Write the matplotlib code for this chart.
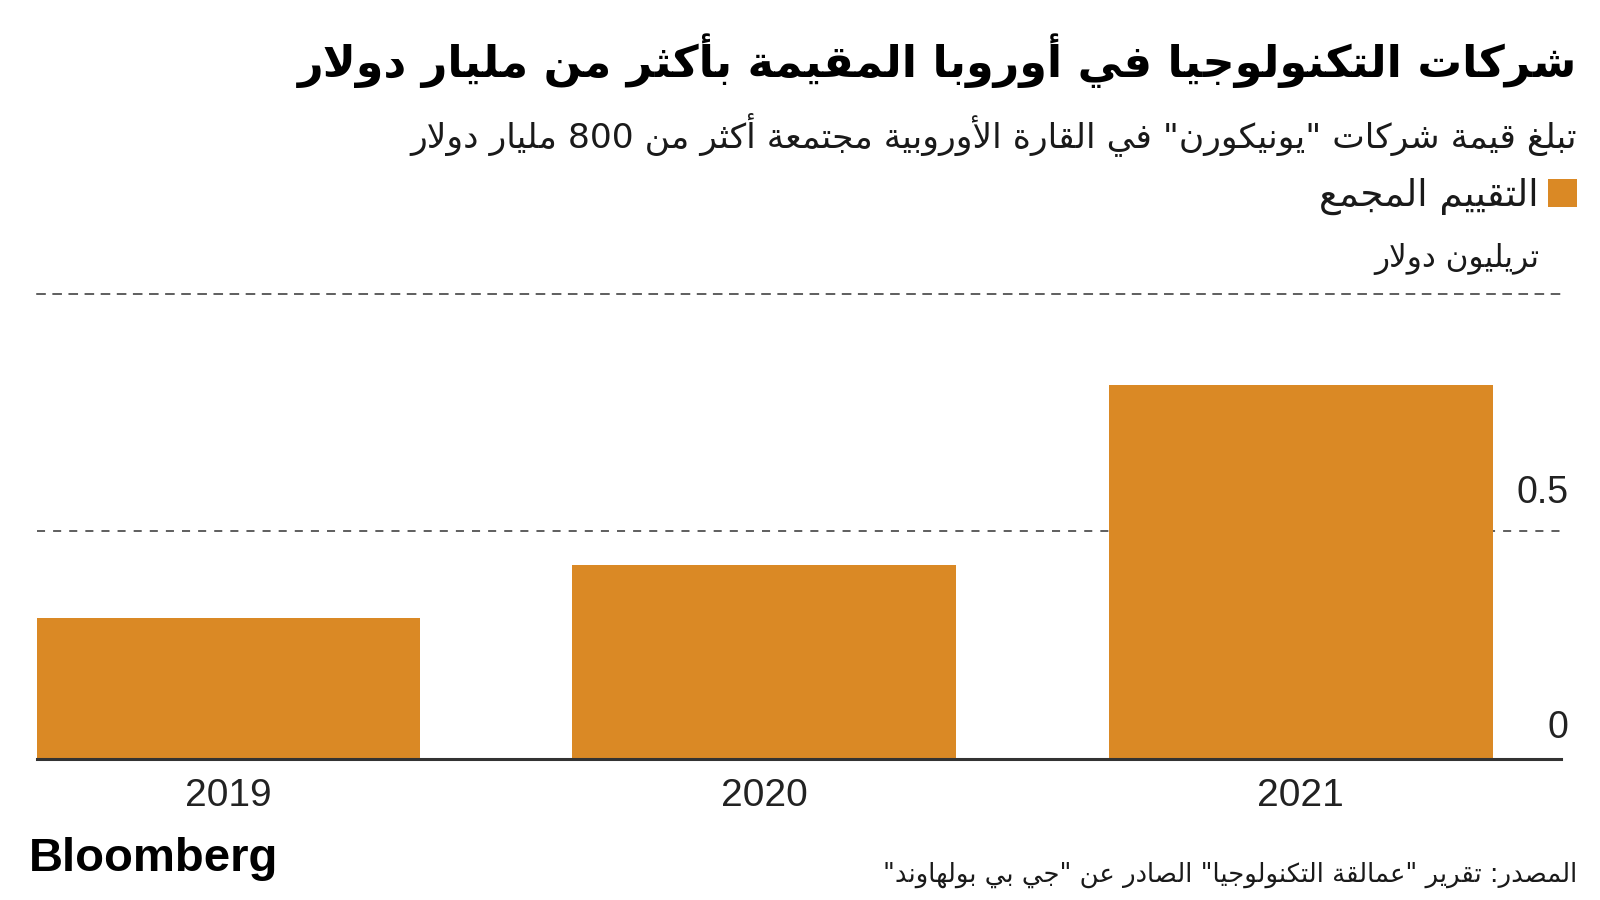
import re
import matplotlib
matplotlib.use("Agg")
import matplotlib.pyplot as plt
from matplotlib.patches import Rectangle

# ---------------- data ----------------
years = ["2019", "2020", "2021"]
valuation_trn = [0.31, 0.425, 0.82]
ytick_values = [0, 0.5]
ytick_labels = ["0", "0.5"]

title_text = "شركات التكنولوجيا في أوروبا المقيمة بأكثر من مليار دولار"
subtitle_text = 'تبلغ قيمة شركات "يونيكورن" في القارة الأوروبية مجتمعة أكثر من 800 مليار دولار'
legend_text = "التقييم المجمع"
unit_text = "تريليون دولار"
source_text = 'المصدر: تقرير "عمالقة التكنولوجيا" الصادر عن "جي بي بولهاوند"'
brand_text = "Bloomberg"

BAR_COLOR = "#DA8925"
TEXT_COLOR = "#1a1a1a"
LINE_COLOR = "#333333"

# ---------------- minimal Arabic shaping + RTL ordering ----------------
_FORMS = {
    0x0621: (0xFE80, 'U'), 0x0622: (0xFE81, 'R'), 0x0623: (0xFE83, 'R'),
    0x0624: (0xFE85, 'R'), 0x0625: (0xFE87, 'R'), 0x0626: (0xFE89, 'D'),
    0x0627: (0xFE8D, 'R'), 0x0628: (0xFE8F, 'D'), 0x0629: (0xFE93, 'R'),
    0x062A: (0xFE95, 'D'), 0x062B: (0xFE99, 'D'), 0x062C: (0xFE9D, 'D'),
    0x062D: (0xFEA1, 'D'), 0x062E: (0xFEA5, 'D'), 0x062F: (0xFEA9, 'R'),
    0x0630: (0xFEAB, 'R'), 0x0631: (0xFEAD, 'R'), 0x0632: (0xFEAF, 'R'),
    0x0633: (0xFEB1, 'D'), 0x0634: (0xFEB5, 'D'), 0x0635: (0xFEB9, 'D'),
    0x0636: (0xFEBD, 'D'), 0x0637: (0xFEC1, 'D'), 0x0638: (0xFEC5, 'D'),
    0x0639: (0xFEC9, 'D'), 0x063A: (0xFECD, 'D'), 0x0641: (0xFED1, 'D'),
    0x0642: (0xFED5, 'D'), 0x0643: (0xFED9, 'D'), 0x0644: (0xFEDD, 'D'),
    0x0645: (0xFEE1, 'D'), 0x0646: (0xFEE5, 'D'), 0x0647: (0xFEE9, 'D'),
    0x0648: (0xFEED, 'R'), 0x0649: (0xFEEF, 'R'), 0x064A: (0xFEF1, 'D'),
}
_LAM_ALEF = {0x0622: 0xFEF5, 0x0623: 0xFEF7, 0x0625: 0xFEF9, 0x0627: 0xFEFB}


def arabic(text):
    items = []
    i = 0
    while i < len(text):
        c = ord(text[i])
        if c == 0x0644 and i + 1 < len(text) and ord(text[i + 1]) in _LAM_ALEF:
            items.append((_LAM_ALEF[ord(text[i + 1])], 'R'))
            i += 2
        elif c in _FORMS:
            items.append(_FORMS[c])
            i += 1
        else:
            items.append((c, None))
            i += 1
    out = []
    for k, (base, t) in enumerate(items):
        if t is None or t == 'U':
            out.append(chr(base))
            continue
        prev_t = items[k - 1][1] if k > 0 else None
        next_t = items[k + 1][1] if k + 1 < len(items) else None
        jp = prev_t == 'D'
        jn = t == 'D' and next_t in ('D', 'R')
        if jp and jn:
            off = 3
        elif jp:
            off = 1
        elif jn:
            off = 2
        else:
            off = 0
        out.append(chr(base + off))
    s = "".join(out)[::-1]
    s = re.sub(r'[0-9A-Za-z]+(?:[.,][0-9A-Za-z]+)*', lambda m: m.group(0)[::-1], s)
    return s


# ---------------- figure ----------------
W, H = 1600, 900
fig = plt.figure(figsize=(16, 9), dpi=100)
fig.patch.set_facecolor("white")

ax_left, ax_right, ax_bottom, ax_top = 37, 1561, 759, 294
ax = fig.add_axes([ax_left / W, 1 - ax_bottom / H, (ax_right - ax_left) / W, (ax_bottom - ax_top) / H])

x = list(range(len(years)))
ax.bar(x, valuation_trn, width=0.716, color=BAR_COLOR, zorder=3)
ax.set_xlim(-0.356, 2.485)
ax.set_ylim(0, 1.0197)

plt.rcParams['lines.scale_dashes'] = False
for v in ytick_values[1:]:
    ax.axhline(v, color=LINE_COLOR, lw=1.1, linestyle=(0, (5.8, 5.8)), zorder=1)

for s in ("left", "right"):
    ax.spines[s].set_visible(False)
ax.spines["top"].set_color(LINE_COLOR)
ax.spines["top"].set_linewidth(1.1)
ax.spines["top"].set_linestyle((0, (5.8, 5.8)))
ax.spines["bottom"].set_color(LINE_COLOR)
ax.spines["bottom"].set_linewidth(2.2)
ax.spines["bottom"].set_zorder(4)

ax.set_yticks([])
ax.set_xticks(x)
ax.set_xticklabels(years, fontfamily="Liberation Sans", fontsize=28, color="#222222")
ax.tick_params(axis="x", length=0, pad=14)

label_offsets_px = [21, 28]
for v, lab, off in zip(ytick_values, ytick_labels, label_offsets_px):
    ax.annotate(lab, xy=(1.0047, v), xycoords=("axes fraction", "data"),
                xytext=(0, off * 0.72), textcoords="offset points",
                ha="right", va="baseline", fontfamily="Liberation Sans",
                fontsize=27, color="#222222")

# ---------------- texts ----------------
def px(xp, yp):
    return xp / W, 1 - yp / H


texts = []
t_title = fig.text(*px(1577, 61), arabic(title_text), ha="right", va="center",
                   fontfamily="DejaVu Sans", fontweight="bold", fontsize=30, color="black")
texts.append((t_title, 1577 - 301))
t_sub = fig.text(*px(1577, 134), arabic(subtitle_text), ha="right", va="center",
                 fontfamily="DejaVu Sans", fontsize=20, color=TEXT_COLOR)
texts.append((t_sub, 1577 - 411))
t_leg = fig.text(*px(1539, 196), arabic(legend_text), ha="right", va="center",
                 fontfamily="DejaVu Sans", fontsize=20, color=TEXT_COLOR)
texts.append((t_leg, 1539 - 1319))
t_unit = fig.text(*px(1539, 259), arabic(unit_text), ha="right", va="center",
                  fontfamily="DejaVu Sans", fontsize=20, color=TEXT_COLOR)
texts.append((t_unit, 1539 - 1374))
t_src = fig.text(*px(1577, 875), arabic(source_text), ha="right", va="center",
                 fontfamily="DejaVu Sans", fontsize=16, color=TEXT_COLOR)
texts.append((t_src, 1577 - 883))

fig.patches.append(Rectangle(px(1548, 207), 29 / W, 28 / H, transform=fig.transFigure,
                             facecolor=BAR_COLOR, edgecolor="none"))

fig.text(*px(29, 859), brand_text, ha="left", va="center", fontfamily="Liberation Sans",
         fontweight="bold", fontsize=34, color="black")

# fit Arabic text widths to the reference
fig.canvas.draw()
r = fig.canvas.get_renderer()
for t, target in texts:
    w = t.get_window_extent(r).width
    t.set_fontsize(t.get_fontsize() * target / w)

fig.savefig("out.png", dpi=100, facecolor="white")
